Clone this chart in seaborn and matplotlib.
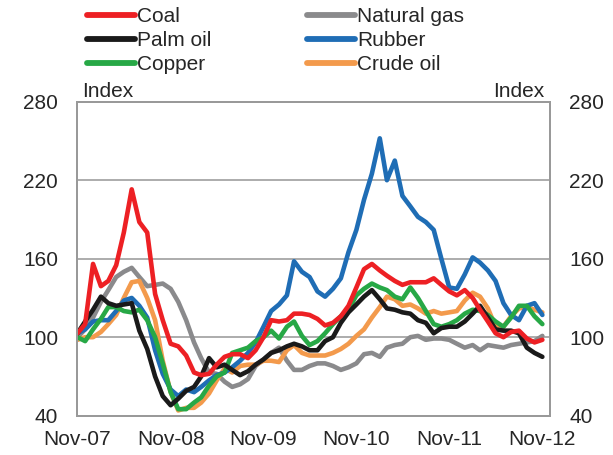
import pandas as pd
import numpy as np
import matplotlib
matplotlib.use("Agg")
import matplotlib.pyplot as plt
import seaborn as sns

# Monthly commodity price indices, Nov-07 to Nov-12
coal = [103, 110, 156, 139, 143, 155, 180, 213, 188, 180, 133, 113, 95, 93, 86, 73,
        71, 72, 79, 85, 87, 87, 84, 90, 100, 113, 112, 113, 118, 118, 117, 114, 109,
        111, 116, 124, 138, 152, 156, 151, 147, 143, 140, 142, 142, 142, 145, 140, 135,
        132, 136, 130, 121, 112, 103, 100, 104, 105, 99, 96, 98]
palm_oil = [103, 112, 121, 131, 126, 124, 125, 126, 105, 91, 70, 55, 48, 53, 59, 62,
            70, 84, 77, 79, 75, 71, 74, 79, 83, 88, 90, 93, 95, 93, 90, 90, 97, 100,
            111, 119, 125, 131, 136, 129, 122, 121, 119, 118, 113, 111, 103, 107, 108,
            108, 112, 118, 124, 115, 106, 105, 105, 103, 92, 88, 85]
copper = [100, 97, 106, 114, 123, 123, 120, 119, 121, 113, 100, 80, 58, 45, 45, 50,
          54, 63, 70, 73, 88, 90, 92, 97, 100, 105, 99, 108, 112, 101, 94, 97, 103,
          110, 116, 121, 132, 137, 141, 138, 136, 131, 129, 138, 130, 120, 110, 108,
          110, 113, 118, 121, 120, 117, 112, 108, 115, 124, 124, 116, 110]
natural_gas = [100, 106, 115, 127, 136, 146, 150, 153, 146, 139, 140, 141, 137, 127,
               113, 96, 84, 73, 72, 66, 62, 64, 68, 78, 83, 88, 92, 82, 75, 75, 78, 80,
               80, 78, 75, 77, 80, 87, 88, 85, 92, 94, 95, 100, 101, 98, 99, 99, 98, 95,
               92, 94, 90, 94, 93, 92, 94, 95, 96, 97, 101]
rubber = [103, 106, 112, 113, 113, 120, 128, 130, 124, 115, 90, 72, 60, 55, 60, 58,
          62, 67, 71, 73, 77, 82, 88, 96, 108, 120, 125, 132, 158, 150, 146, 135, 131,
          137, 145, 165, 182, 205, 225, 252, 220, 235, 208, 200, 192, 188, 182, 160,
          138, 137, 148, 161, 157, 151, 143, 126, 117, 113, 124, 126, 117]
crude_oil = [98, 100, 100, 104, 110, 117, 130, 142, 143, 130, 113, 82, 58, 44, 46, 46,
             50, 57, 67, 76, 73, 78, 79, 79, 82, 82, 81, 90, 94, 88, 86, 86, 86, 88, 91,
             95, 101, 106, 115, 123, 131, 129, 124, 125, 122, 118, 120, 118, 119, 120,
             128, 134, 131, 122, 108, 108, 116, 122, 123, 121, 119]

names = ["Coal", "Palm oil", "Copper", "Natural gas", "Rubber", "Crude oil"]
colors = ["#ed2024", "#1a1a1a", "#27a846", "#8a8a8c", "#1f6db5", "#f39a4c"]

dates = pd.date_range("2007-11-01", periods=len(coal), freq="MS")
df = pd.DataFrame({"Date": dates, "Coal": coal, "Palm oil": palm_oil, "Copper": copper,
                   "Natural gas": natural_gas, "Rubber": rubber, "Crude oil": crude_oil})
long_df = df.melt(id_vars="Date", var_name="Commodity", value_name="Index")

sns.set_style("white")
plt.rcParams["font.family"] = ["Liberation Sans", "DejaVu Sans"]
plt.rcParams["font.size"] = 15

fig = plt.figure(figsize=(6.13, 4.55), dpi=100)
ax = fig.add_axes([77 / 613, 1 - 415.7 / 455, (550 - 77) / 613, (415.7 - 101.7) / 455])

# draw order: grey first so the others sit on top
order = ["Natural gas", "Crude oil", "Rubber", "Copper", "Palm oil", "Coal"]
pal = dict(zip(names, colors))
for name in order:
    sns.lineplot(data=long_df[long_df["Commodity"] == name], x="Date", y="Index",
                 color=pal[name], linewidth=3.3, ax=ax, legend=False)

ax.set_ylim(40, 280)
ax.set_xlim(dates[0] - pd.Timedelta(days=2), pd.Timestamp("2012-12-01"))
ax.set_yticks([40, 100, 160, 220, 280])
for y in [100, 160, 220]:
    ax.axhline(y, color="#a6a6a6", linewidth=1.3, zorder=0)

xt = pd.date_range("2007-11-01", "2012-11-01", freq="12MS")
ax.set_xticks(xt)
ax.set_xticklabels([d.strftime("%b-%y") for d in xt])
ax.tick_params(axis="x", direction="in", length=5, width=1.2, color="#999999",
               pad=10, labelsize=15)
ax.tick_params(axis="y", length=0, pad=13.5, labelsize=15)
ax.set_xlabel("")
ax.set_ylabel("")

ax2 = ax.twinx()
ax2.set_ylim(40, 280)
ax2.set_yticks([40, 100, 160, 220, 280])
ax2.tick_params(axis="y", length=0, pad=14, labelsize=15)

for a in (ax, ax2):
    for s in a.spines.values():
        s.set_color("#999999")
        s.set_linewidth(1.3)

fig.text(82 / 613, 1 - 101 / 455, "Index", ha="left", va="bottom", fontsize=15)
fig.text(544 / 613, 1 - 101 / 455, "Index", ha="right", va="bottom", fontsize=15)

for col, x0 in ((names[:3], 87), (names[3:], 307)):
    fig.legend([plt.Line2D([], [], color=pal[n], linewidth=4.2) for n in col], col,
               loc="upper left", bbox_to_anchor=(x0 / 613, 1 - 7 / 455),
               frameon=False, handlelength=2.3, handletextpad=0.1,
               labelspacing=0.24, borderaxespad=0, borderpad=0, fontsize=15)

fig.savefig("out.png", dpi=100)
